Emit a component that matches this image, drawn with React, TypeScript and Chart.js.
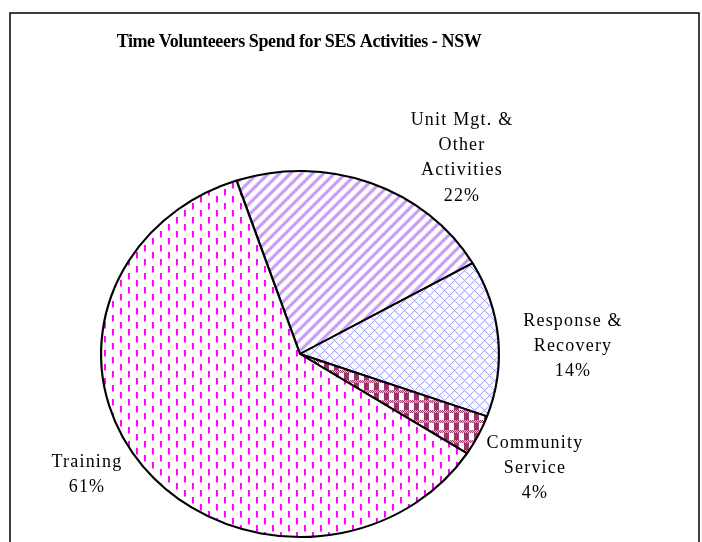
import React, { useEffect, useRef } from "react";
import { Chart, registerables } from "chart.js";

Chart.register(...registerables);

// ---- data ----
const CATEGORIES = ["Unit Mgt. & Other Activities", "Response & Recovery", "Community Service", "Training"];
const LABEL_LINES = [["Unit Mgt. &", "Other", "Activities"], ["Response &", "Recovery"], ["Community", "Service"], ["Training"]];
const VALUES = [21.9, 13.8, 3.6, 60.7];
const TITLE = "Time Volunteeers Spend for SES Activities - NSW";

// ---- layout / style ----
const W = 702;
const H = 542;
const SX = 1.087; // horizontal stretch of the pie (ellipse)
const ROTATION = -18.6;
const LABEL_FIRST_LINE = [
  { x: 462, y: 120 },
  { x: 573, y: 321 },
  { x: 535, y: 443 },
  { x: 87, y: 462 },
];
const LINE_H = 25.3;
const FONT = "'Liberation Serif', 'Times New Roman', serif";

function makeTile(w: number, h: number, paint: (x: number, y: number) => [number, number, number, number]) {
  const c = document.createElement("canvas");
  c.width = w;
  c.height = h;
  const cx = c.getContext("2d")!;
  const img = cx.createImageData(w, h);
  for (let y = 0; y < h; y++) {
    for (let x = 0; x < w; x++) {
      const [r, g, b, a] = paint(x, y);
      const i = (y * w + x) * 4;
      img.data[i] = r;
      img.data[i + 1] = g;
      img.data[i + 2] = b;
      img.data[i + 3] = a;
    }
  }
  cx.putImageData(img, 0, 0);
  return c;
}

function mix(c: [number, number, number], t: number): [number, number, number, number] {
  return [
    Math.round(255 + (c[0] - 255) * t),
    Math.round(255 + (c[1] - 255) * t),
    Math.round(255 + (c[2] - 255) * t),
    255,
  ];
}

function buildPatterns(ctx: CanvasRenderingContext2D) {
  // Unit: wide upward diagonal stripes, lavender
  const stripe = makeTile(11, 11, (x, y) => {
    const p = (x + y) % 11;
    const d = Math.abs(p - 5); // 0..5
    const t = d < 2 ? 1 : d < 3 ? 0.55 : d < 4 ? 0.18 : 0;
    return mix([198, 154, 245], t);
  });
  // Response: thin diagonal cross-hatch, light blue
  const hatch = makeTile(10, 10, (x, y) => {
    const s = (x + y) % 10;
    const d = ((x - y) % 10 + 10) % 10;
    if (s === 0 || d === 0) return mix([155, 155, 248], 0.9);
    if (s === 1 || d === 1) return mix([155, 155, 248], 0.2);
    return [255, 255, 255, 255];
  });
  // Community: maroon plaid
  const plaid = makeTile(10, 10, (x, y) => {
    const maroon: [number, number, number, number] = [153, 51, 102, 255];
    const white: [number, number, number, number] = [255, 255, 255, 255];
    if (y < 3) return (x + y) % 2 === 0 ? maroon : mix([153, 51, 102], 0.25);
    if (x < 5) return maroon;
    return white;
  });
  // Training: staggered magenta vertical dashes
  const dash = makeTile(16, 14, (x, y) => {
    const inA = (x === 2 || x === 3) && y < 7;
    const inB = (x === 10 || x === 11) && y >= 7;
    if (inA || inB) return mix([255, 0, 255], y % 7 === 6 ? 0.5 : 1);
    return [255, 255, 255, 255];
  });
  const m = new DOMMatrix().scale(1 / SX, 1);
  return [stripe, hatch, plaid, dash].map((t) => {
    const p = ctx.createPattern(t, "repeat")!;
    p.setTransform(m);
    return p;
  });
}

const ellipsePlugin = {
  id: "ellipse",
  beforeDatasetsDraw(chart: any) {
    const { ctx, chartArea: a } = chart;
    const cx = (a.left + a.right) / 2;
    const cy = (a.top + a.bottom) / 2;
    ctx.save();
    ctx.translate(cx, cy);
    ctx.scale(SX, 1);
    ctx.translate(-cx, -cy);
  },
  afterDatasetsDraw(chart: any) {
    chart.ctx.restore();
  },
};

const textPlugin = {
  id: "texts",
  afterDraw(chart: any) {
    const ctx: CanvasRenderingContext2D = chart.ctx;
    ctx.save();
    // frame
    ctx.strokeStyle = "#000";
    ctx.lineWidth = 1.5;
    ctx.strokeRect(10, 13, 689, 560);
    // title
    ctx.fillStyle = "#000";
    ctx.textAlign = "center";
    ctx.textBaseline = "middle";
    ctx.font = `bold 18px ${FONT}`;
    (ctx as any).letterSpacing = "-0.4px";
    ctx.fillText(TITLE, 299, 42);
    // labels
    const total = VALUES.reduce((s, v) => s + v, 0);
    ctx.font = `18px ${FONT}`;
    (ctx as any).letterSpacing = "1.2px";
    LABEL_LINES.forEach((lines, i) => {
      const all = [...lines, `${Math.round((VALUES[i] / total) * 100)}%`];
      const p = LABEL_FIRST_LINE[i];
      all.forEach((ln, j) => ctx.fillText(ln, p.x, p.y + j * LINE_H));
    });
    ctx.restore();
  },
};

export default function App() {
  const ref = useRef<HTMLCanvasElement>(null);
  useEffect(() => {
    const canvas = ref.current!;
    const ctx = canvas.getContext("2d")!;
    const patterns = buildPatterns(ctx);
    const chart = new Chart(canvas, {
      type: "pie",
      data: {
        labels: CATEGORIES,
        datasets: [
          {
            data: VALUES,
            backgroundColor: patterns as any,
            borderColor: "#000",
            borderWidth: 2,
            hoverOffset: 0,
          },
        ],
      },
      options: {
        responsive: false,
        animation: false,
        events: [],
        rotation: ROTATION,
        layout: { padding: { left: 116, right: 218, top: 170, bottom: 4 } },
        plugins: {
          legend: { display: false },
          title: { display: false },
          tooltip: { enabled: false },
        },
      },
      plugins: [ellipsePlugin, textPlugin],
    });
    return () => chart.destroy();
  }, []);
  return (
    <div style={{ position: "fixed", left: 0, top: 0, width: W, height: H, background: "#fff" }}>
      <canvas ref={ref} width={W} height={H} style={{ width: W, height: H, display: "block" }} />
    </div>
  );
}
